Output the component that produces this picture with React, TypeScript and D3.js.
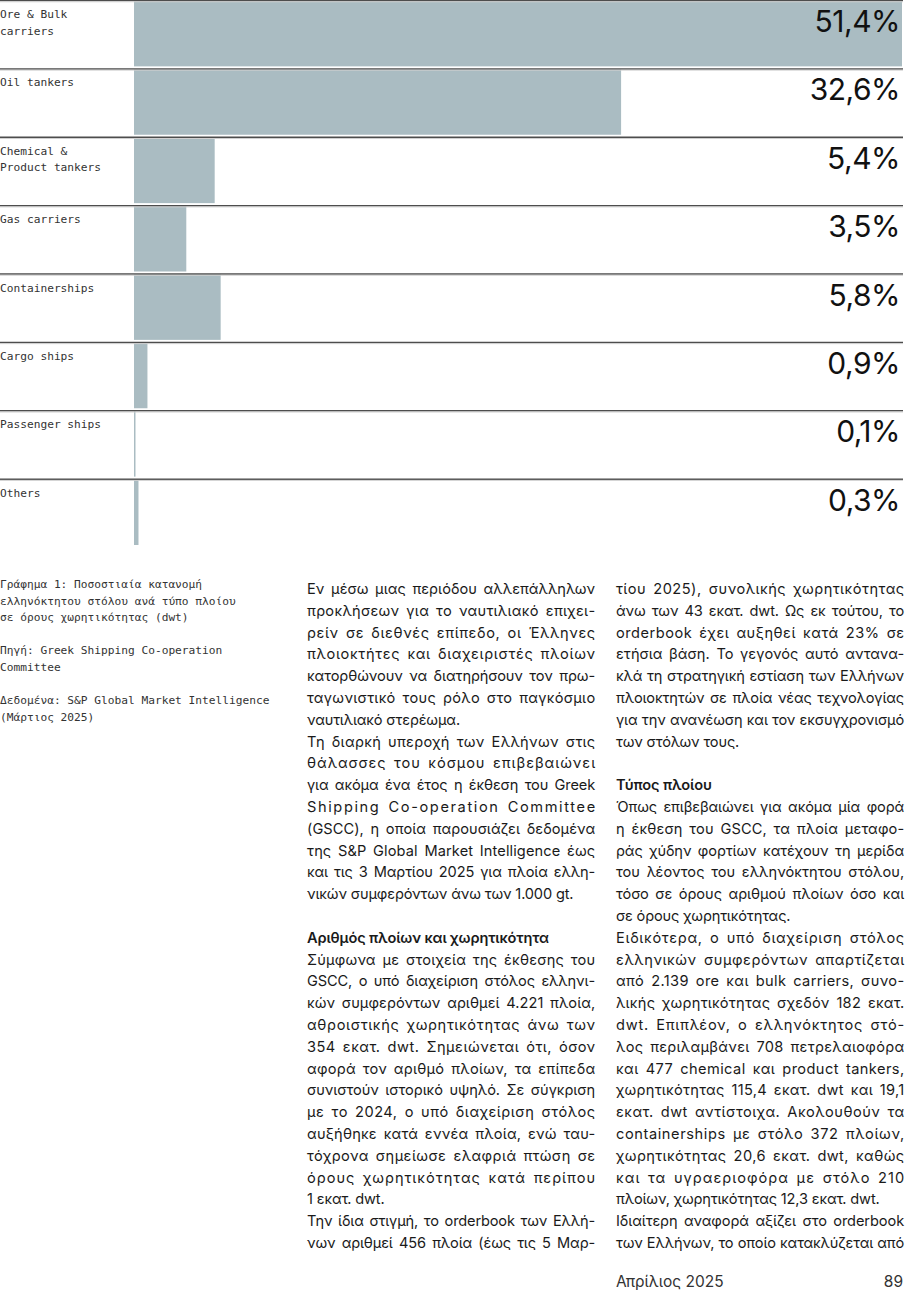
import { useEffect, useRef } from 'react';
import * as d3 from 'd3';

// chart data
const categories = [
  'Ore & Bulk\ncarriers',
  'Oil tankers',
  'Chemical &\nProduct tankers',
  'Gas carriers',
  'Containerships',
  'Cargo ships',
  'Passenger ships',
  'Others',
];
const shares = [51.4, 32.6, 5.4, 3.5, 5.8, 0.9, 0.1, 0.3];

const captionLines = [
  'Γράφημα 1: Ποσοστιαία κατανομή',
  'ελληνόκτητου στόλου ανά τύπο πλοίου',
  'σε όρους χωρητικότητας (dwt)',
  '',
  'Πηγή: Greek Shipping Co-operation',
  'Committee',
  '',
  'Δεδομένα: S&P Global Market Intelligence',
  '(Μάρτιος 2025)',
];

// "#" = bold heading, "¶" = paragraph end (not justified), "" = blank
const column1 = [
  'Εν μέσω μιας περιόδου αλλεπάλληλων',
  'προκλήσεων για το ναυτιλιακό επιχει-',
  'ρείν σε διεθνές επίπεδο, οι Έλληνες',
  'πλοιοκτήτες και διαχειριστές πλοίων',
  'κατορθώνουν να διατηρήσουν τον πρω-',
  'ταγωνιστικό τους ρόλο στο παγκόσμιο',
  'ναυτιλιακό στερέωμα.¶',
  'Τη διαρκή υπεροχή των Ελλήνων στις',
  'θάλασσες του κόσμου επιβεβαιώνει',
  'για ακόμα ένα έτος η έκθεση του Greek',
  'Shipping Co-operation Committee',
  '(GSCC), η οποία παρουσιάζει δεδομένα',
  'της S&P Global Market Intelligence έως',
  'και τις 3 Μαρτίου 2025 για πλοία ελλη-',
  'νικών συμφερόντων άνω των 1.000 gt.¶',
  '',
  '#Αριθμός πλοίων και χωρητικότητα',
  'Σύμφωνα με στοιχεία της έκθεσης του',
  'GSCC, ο υπό διαχείριση στόλος ελληνι-',
  'κών συμφερόντων αριθμεί 4.221 πλοία,',
  'αθροιστικής χωρητικότητας άνω των',
  '354 εκατ. dwt. Σημειώνεται ότι, όσον',
  'αφορά τον αριθμό πλοίων, τα επίπεδα',
  'συνιστούν ιστορικό υψηλό. Σε σύγκριση',
  'με το 2024, ο υπό διαχείριση στόλος',
  'αυξήθηκε κατά εννέα πλοία, ενώ ταυ-',
  'τόχρονα σημείωσε ελαφριά πτώση σε',
  'όρους χωρητικότητας κατά περίπου',
  '1 εκατ. dwt.¶',
  'Την ίδια στιγμή, το orderbook των Ελλή-',
  'νων αριθμεί 456 πλοία (έως τις 5 Μαρ-',
];

const column2 = [
  'τίου 2025), συνολικής χωρητικότητας',
  'άνω των 43 εκατ. dwt. Ως εκ τούτου, το',
  'orderbook έχει αυξηθεί κατά 23% σε',
  'ετήσια βάση. Το γεγονός αυτό ανταvα-',
  'κλά τη στρατηγική εστίαση των Ελλήνων',
  'πλοιοκτητών σε πλοία νέας τεχνολογίας',
  'για την ανανέωση και τον εκσυγχρονισμό',
  'των στόλων τους.¶',
  '',
  '#Τύπος πλοίου',
  'Όπως επιβεβαιώνει για ακόμα μία φορά',
  'η έκθεση του GSCC, τα πλοία μεταφο-',
  'ράς χύδην φορτίων κατέχουν τη μερίδα',
  'του λέοντος του ελληνόκτητου στόλου,',
  'τόσο σε όρους αριθμού πλοίων όσο και',
  'σε όρους χωρητικότητας.¶',
  'Ειδικότερα, ο υπό διαχείριση στόλος',
  'ελληνικών συμφερόντων απαρτίζεται',
  'από 2.139 ore και bulk carriers, συνο-',
  'λικής χωρητικότητας σχεδόν 182 εκατ.',
  'dwt. Επιπλέον, ο ελληνόκτητος στό-',
  'λος περιλαμβάνει 708 πετρελαιοφόρα',
  'και 477 chemical και product tankers,',
  'χωρητικότητας 115,4 εκατ. dwt και 19,1',
  'εκατ. dwt αντίστοιχα. Ακολουθούν τα',
  'containerships με στόλο 372 πλοίων,',
  'χωρητικότητας 20,6 εκατ. dwt, καθώς',
  'και τα υγραεριοφόρα με στόλο 210',
  'πλοίων, χωρητικότητας 12,3 εκατ. dwt.¶',
  'Ιδιαίτερη αναφορά αξίζει στο orderbook',
  'των Ελλήνων, το οποίο κατακλύζεται από',
];

const footerMonth = 'Απρίλιος 2025';
const pageNumber = '89';

const W = 908;
const H = 1291;
const mono = '"DejaVu Sans Mono", "Liberation Mono", monospace';
const sans = 'Inter, "Noto Sans", sans-serif';

const App = () => {
  const svgRef = useRef<SVGSVGElement>(null);

  useEffect(() => {
    const svg = d3.select(svgRef.current);
    svg.selectAll('*').remove();

    const x = d3.scaleLinear().domain([0, d3.max(shares) as number]).range([134, 902]);
    const y = d3.scaleBand<string>().domain(categories).range([0, 547]).paddingInner(0);

    const rows = svg
      .append('g')
      .selectAll('g')
      .data(categories)
      .enter()
      .append('g')
      .attr('transform', (d) => `translate(0,${y(d)})`);

    // bars
    rows
      .append('rect')
      .attr('x', x(0))
      .attr('y', 1)
      .attr('width', (_, i) => x(shares[i]) - x(0))
      .attr('height', y.bandwidth() - 3)
      .attr('fill', '#aabcc2');

    // separator lines
    rows
      .append('line')
      .attr('x1', 0)
      .attr('x2', 903)
      .attr('y1', 0.5)
      .attr('y2', 0.5)
      .attr('stroke', '#4d4d4d')
      .attr('stroke-width', 1.5);
    rows
      .append('line')
      .attr('x1', 0)
      .attr('x2', 903)
      .attr('y1', 1.75)
      .attr('y2', 1.75)
      .attr('stroke', '#d0d0d0')
      .attr('stroke-width', 1);

    // category labels
    rows.each(function (d) {
      const t = d3
        .select(this)
        .append('text')
        .attr('font-family', mono)
        .attr('font-size', 11.2)
        .attr('fill', '#333');
      d.split('\n').forEach((line, k) => {
        t.append('tspan').attr('x', 0).attr('y', 18 + k * 16.5).text(line);
      });
    });

    // value labels
    const fmt = d3.format('.1f');
    rows
      .append('text')
      .attr('x', 900)
      .attr('y', 32)
      .attr('text-anchor', 'end')
      .attr('font-family', sans)
      .attr('font-size', 30)
      .attr('letter-spacing', -0.5)
      .attr('fill', '#111')
      .text((_, i) => fmt(shares[i]).replace('.', ',') + '%');

    // caption
    const cap = svg
      .append('text')
      .attr('font-family', mono)
      .attr('font-size', 11.2)
      .attr('fill', '#333');
    captionLines.forEach((line, k) => {
      if (line) cap.append('tspan').attr('x', 0).attr('y', 588 + k * 16.6).text(line);
    });

    // body columns, justified by word and letter spacing
    const colWidth = 288;
    const lineH = 21.8;
    const baseLs = -0.15;
    const drawColumn = (lines: string[], x0: number) => {
      const g = svg.append('g');
      lines.forEach((raw, k) => {
        if (!raw) return;
        const bold = raw.startsWith('#');
        const end = raw.endsWith('¶');
        const str = raw.replace(/^#/, '').replace(/¶$/, '');
        const t = g
          .append('text')
          .attr('x', x0)
          .attr('y', 594 + k * lineH)
          .attr('font-family', sans)
          .attr('font-size', 14.6)
          .attr('font-weight', bold ? 600 : 400)
          .attr('letter-spacing', baseLs)
          .attr('fill', '#1a1a1a')
          .text(str);
        if (bold || end) return;
        const node = t.node() as SVGTextElement;
        const natural = node.getComputedTextLength();
        const spaces = (str.match(/ /g) || []).length;
        const extra = colWidth - natural;
        if (extra < 0) {
          t.attr('textLength', colWidth).attr('lengthAdjust', 'spacing');
          return;
        }
        const wordPart = Math.min(extra, spaces * 2.5);
        const letterPart = (extra - wordPart) / Math.max(1, str.length - 1);
        t.attr('letter-spacing', baseLs + letterPart);
        if (spaces > 0) t.attr('word-spacing', wordPart / spaces);
      });
    };
    drawColumn(column1, 307);
    drawColumn(column2, 616);

    // footer
    svg
      .append('text')
      .attr('x', 616)
      .attr('y', 1287)
      .attr('font-family', sans)
      .attr('font-size', 15.5)
      .attr('fill', '#333')
      .text(footerMonth);
    svg
      .append('text')
      .attr('x', 903)
      .attr('y', 1287)
      .attr('text-anchor', 'end')
      .attr('font-family', sans)
      .attr('font-size', 15.5)
      .attr('fill', '#333')
      .text(pageNumber);
  }, []);

  return (
    <div style={{ position: 'absolute', top: 0, left: 0 }}>
      <svg ref={svgRef} width={W} height={H} style={{ display: 'block', background: '#fff' }} />
    </div>
  );
};

export default App;
